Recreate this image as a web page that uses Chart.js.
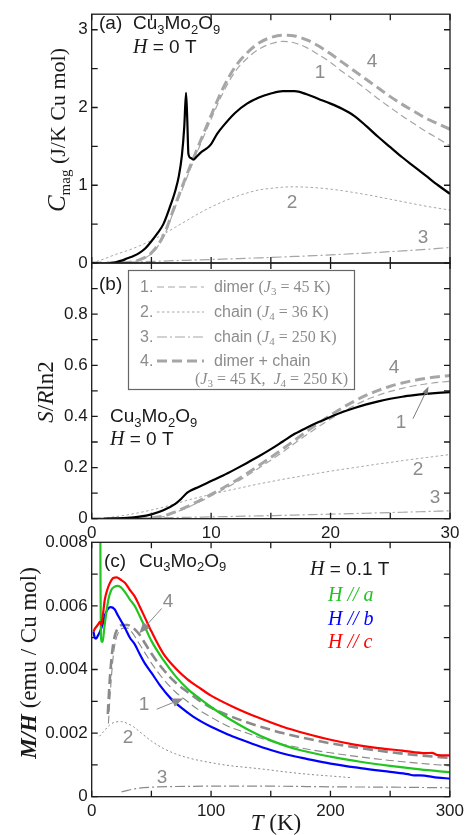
<!DOCTYPE html>
<html>
<head>
<meta charset="utf-8">
<script src="https://cdn.jsdelivr.net/npm/chart.js@4.4.1/dist/chart.umd.min.js"></script>
<style>
  html, body { margin: 0; padding: 0; background: #fff; }
  #wrap { position: relative; width: 468px; height: 835px; }
  #wrap canvas { position: absolute; left: 0; top: 0; }
</style>
</head>
<body>
<div id="wrap">
  <canvas id="cvA" width="468" height="835"></canvas>
  <canvas id="cvB" width="468" height="835"></canvas>
  <canvas id="cvC" width="468" height="835"></canvas>
</div>
<script>
// ---------- (a) magnetic specific heat ----------
const cMeasT = [1.5, 2, 2.5, 3, 3.5, 4, 4.5, 5, 5.5, 6, 6.5, 7, 7.3, 7.55, 7.75, 7.9, 8.0, 8.1, 8.3, 8.5,
  8.8, 9.2, 9.6, 10, 10.5, 11, 12, 13, 14, 15, 16, 17, 18, 19, 20, 21, 22, 23, 24, 25, 26, 27, 28, 29, 30];
const cMeas = [0, 0.01, 0.03, 0.06, 0.09, 0.13, 0.19, 0.28, 0.38, 0.5, 0.7, 0.93, 1.12, 1.38, 1.75, 2.19, 1.85, 1.4, 1.35, 1.33,
  1.37, 1.43, 1.47, 1.53, 1.66, 1.76, 1.93, 2.05, 2.13, 2.18, 2.21, 2.21, 2.17, 2.11, 2.05, 1.98, 1.89, 1.76, 1.62, 1.49,
  1.36, 1.24, 1.12, 1.0, 0.89];

// model curves on an integer temperature grid (K)
const modelT = [0, 1, 2, 3, 4, 5, 6, 7, 8, 9, 10, 11, 12, 13, 14, 15, 16, 17, 18, 19, 20,
  21, 22, 23, 24, 25, 26, 27, 28, 29, 30];
const cDimer = [0, 0, 0, 0.005, 0.04, 0.12, 0.33, 0.72, 1.11, 1.49, 1.85, 2.19, 2.46, 2.63, 2.75, 2.82,
  2.85, 2.83, 2.77, 2.68, 2.58, 2.46, 2.35, 2.23, 2.11, 2.0, 1.89, 1.79, 1.69, 1.6, 1.51];
const cChain36 = [0, 0.05, 0.11, 0.16, 0.22, 0.29, 0.37, 0.46, 0.55, 0.64, 0.72, 0.79, 0.85, 0.9, 0.94, 0.96,
  0.975, 0.98, 0.975, 0.965, 0.95, 0.93, 0.905, 0.88, 0.85, 0.82, 0.79, 0.76, 0.73, 0.705, 0.68];
const cChain250 = [0, 0.004, 0.008, 0.012, 0.016, 0.02, 0.025, 0.03, 0.035, 0.04, 0.045, 0.05, 0.055, 0.06, 0.066, 0.072,
  0.078, 0.084, 0.09, 0.097, 0.104, 0.112, 0.12, 0.128, 0.137, 0.146, 0.155, 0.165, 0.175, 0.187, 0.2];
const cSum = [0, 0, 0, 0.005, 0.04, 0.13, 0.35, 0.75, 1.15, 1.53, 1.9, 2.25, 2.52, 2.7, 2.83, 2.9,
  2.93, 2.92, 2.87, 2.79, 2.69, 2.58, 2.47, 2.36, 2.25, 2.14, 2.04, 1.95, 1.86, 1.79, 1.72];

// ---------- (b) entropy ----------
const sMeasT = [1, 2, 3, 4, 5, 6, 7, 7.5, 8, 9, 10, 11, 12, 13, 14, 15, 16, 17, 18, 19, 20,
  21, 22, 23, 24, 25, 26, 27, 28, 29, 30];
const sMeas = [0, 0.001, 0.003, 0.008, 0.017, 0.033, 0.058, 0.078, 0.102, 0.125, 0.147, 0.169, 0.193, 0.218, 0.244, 0.272,
  0.302, 0.332, 0.356, 0.378, 0.398, 0.417, 0.433, 0.447, 0.459, 0.469, 0.477, 0.483, 0.488, 0.492, 0.495];
const sDimer = [0, 0, 0, 0, 0, 0.002, 0.008, 0.024, 0.043, 0.065, 0.089, 0.114, 0.14, 0.168, 0.198, 0.229,
  0.261, 0.295, 0.328, 0.36, 0.39, 0.418, 0.443, 0.465, 0.483, 0.498, 0.51, 0.52, 0.527, 0.533, 0.537];
const sChain36 = [0, 0.003, 0.008, 0.015, 0.024, 0.034, 0.045, 0.058, 0.072, 0.084, 0.095, 0.106, 0.116, 0.126, 0.136, 0.145,
  0.154, 0.162, 0.17, 0.178, 0.186, 0.193, 0.2, 0.207, 0.214, 0.22, 0.227, 0.233, 0.239, 0.245, 0.251];
const sChain250 = [0, 0.0005, 0.001, 0.0017, 0.0024, 0.003, 0.0038, 0.0046, 0.0054, 0.0062, 0.007, 0.008, 0.009, 0.01, 0.011, 0.012,
  0.013, 0.0142, 0.0154, 0.0166, 0.018, 0.019, 0.0202, 0.0214, 0.0227, 0.024, 0.0253, 0.0267, 0.028, 0.0295, 0.031];
const sSum = [0, 0, 0, 0, 0, 0.003, 0.01, 0.027, 0.047, 0.07, 0.095, 0.12, 0.147, 0.177, 0.208, 0.24,
  0.273, 0.307, 0.341, 0.374, 0.405, 0.434, 0.46, 0.483, 0.502, 0.518, 0.531, 0.541, 0.549, 0.555, 0.56];

// ---------- (c) susceptibility M/H ----------
const mAT = [7.1, 7.4, 7.7, 8.3, 9.2, 10.5, 12.3, 14, 16.4, 19, 21.5, 24, 27.6, 32, 36, 40, 44.4, 50, 60, 70,
  80, 90, 100, 115, 130, 145, 160, 175, 200, 225, 250, 275, 300];
const mA = [0.0095, 0.0066, 0.0051, 0.00488, 0.00487, 0.0053, 0.0058, 0.0062, 0.0065, 0.0066, 0.00663, 0.0066, 0.00645,
  0.0062, 0.006, 0.0057, 0.00535, 0.0049, 0.0043, 0.0038, 0.0034, 0.0031, 0.00282, 0.00245, 0.00213, 0.00185,
  0.00163, 0.00146, 0.00126, 0.0011, 0.00097, 0.00086, 0.00077];
const mBT = [1.5, 2.5, 3.5, 5, 7, 9, 11, 13.5, 16, 19, 22, 25, 28, 32, 36, 40, 44.4, 50, 58, 66,
  75, 85, 100, 110, 120, 135, 150, 165, 180, 200, 225, 250, 265, 270, 275, 290, 300];
const mB = [0.0052, 0.005, 0.00497, 0.00505, 0.0052, 0.0054, 0.0057, 0.0059, 0.00596, 0.0059, 0.0057, 0.0055, 0.0053,
  0.005, 0.0048, 0.0045, 0.0042, 0.0039, 0.00346, 0.0031, 0.0028, 0.00252, 0.0022, 0.00203, 0.00187, 0.00166,
  0.00147, 0.00131, 0.00119, 0.00104, 0.0009, 0.00078, 0.00071, 0.00067, 0.00067, 0.0006, 0.00057];
const mCT = [1.5, 3, 5, 7, 8, 9, 11, 13, 15, 18, 21, 24, 28, 32, 36, 40, 45, 50, 60, 70,
  80, 90, 100, 120, 140, 160, 180, 200, 220, 240, 260, 280, 285, 290, 300];
const mC = [0.0052, 0.0053, 0.0054, 0.0055, 0.0054, 0.0056, 0.0062, 0.0065, 0.0067, 0.00688, 0.0069, 0.00683, 0.00672,
  0.0065, 0.0063, 0.006, 0.0056, 0.0052, 0.0045, 0.00405, 0.0037, 0.00343, 0.00318, 0.0028, 0.00248, 0.0022,
  0.00198, 0.00179, 0.00164, 0.00153, 0.00145, 0.00137, 0.00138, 0.00131, 0.0013];
const mDimerT = [14, 16, 18, 20, 23, 27, 30, 35, 40, 45, 50, 60, 70, 80, 90, 100, 115, 130, 145, 160,
  180, 200, 225, 250, 275, 300];
const mDimer = [0.0023, 0.0035, 0.0044, 0.0049, 0.0052, 0.0053, 0.0053, 0.0051, 0.0048, 0.0045, 0.0042, 0.0037, 0.0033,
  0.003, 0.00272, 0.0025, 0.0022, 0.002, 0.0018, 0.00165, 0.0015, 0.00138, 0.00125, 0.00114, 0.00105, 0.00097];
const mSumT = [13.5, 15, 17, 19, 22, 26, 30, 35, 40, 45, 50, 60, 70, 80, 90, 100, 115, 130, 145, 160,
  180, 200, 225, 250, 275, 300];
const mSum = [0.0026, 0.0036, 0.0045, 0.005, 0.0053, 0.0054, 0.0054, 0.0053, 0.0051, 0.0048, 0.0045, 0.004, 0.0036,
  0.0033, 0.00303, 0.0028, 0.00255, 0.00234, 0.00216, 0.002, 0.00183, 0.00168, 0.00153, 0.0014, 0.0013, 0.00122];
const mChain36T = [6.5, 10, 15, 20, 25, 30, 35, 40, 50, 60, 70, 80, 90, 100, 115, 130, 145, 160, 180, 200, 217];
const mChain36 = [0.0019, 0.00205, 0.00225, 0.00235, 0.00236, 0.0023, 0.0022, 0.00205, 0.00175, 0.00152, 0.00135,
  0.00123, 0.00114, 0.00107, 0.00098, 0.00092, 0.00086, 0.00079, 0.00071, 0.00065, 0.0006];
const mChain250T = [25, 30, 40, 50, 70, 100, 150, 200, 250, 300];
const mChain250 = [0.00015, 0.0002, 0.00027, 0.0003, 0.00032, 0.00033, 0.00033, 0.00031, 0.0003, 0.00028];

// ---------- ticks ----------
const lowXTicks = [0, 5, 10, 15, 20, 25, 30];
const lowXLabels = ['0', '10', '20', '30'];
const cYTicks = [0, 0.5, 1, 1.5, 2, 2.5, 3];
const cYLabels = ['0', '1', '2', '3'];
const sYTicks = [0, 0.1, 0.2, 0.3, 0.4, 0.5, 0.6, 0.7, 0.8, 0.9];
const sYLabels = ['0', '0.2', '0.4', '0.6', '0.8'];
const mXTicks = [0, 50, 100, 150, 200, 250, 300];
const mXLabels = ['0', '100', '200', '300'];
const mYTicks = [0, 0.001, 0.002, 0.003, 0.004, 0.005, 0.006, 0.007];
const mYLabels = ['0', '0.002', '0.004', '0.006', '0.008'];

// ---------- styles / helpers ----------
const SANS = '"Liberation Sans", Arial, sans-serif';
const SERIF = '"Liberation Serif", "Times New Roman", serif';
const INK = '#1a1a1a';
const NOTE = '#8c8c8c';
const sans = (s) => `${s}px ${SANS}`;
const serif = (s) => `${s}px ${SERIF}`;
const ital = (s) => `italic ${s}px ${SERIF}`;

const GRAY_AB = '#a6a6a6';
const GRAY_C = '#8a8a8a';
const DIMER = { w: 1.2, dash: [7, 4] };
const CHAIN36 = { w: 1, dash: [2.5, 2.5] };
const CHAIN250 = { w: 1.2, dash: [10, 3, 2, 3] };
const SUM = { w: 3, dash: [10, 5] };

const pts = (xs, ys) => xs.map((x, i) => ({ x, y: ys[i] }));

function line(data, color, width, dash) {
  return {
    data, borderColor: color, borderWidth: width, borderDash: dash || [],
    pointRadius: 0, fill: false, cubicInterpolationMode: "monotone", borderCapStyle: "butt",
  };
}
const model = (data, st, color) => line(data, color, st.w, st.dash);

function rich(ctx, x, y, runs, align = "left", rot = 0) {
  ctx.save();
  ctx.translate(x, y);
  if (rot) ctx.rotate(rot);
  ctx.textAlign = "left";
  ctx.textBaseline = "alphabetic";
  let w = 0;
  runs.forEach((r) => { ctx.font = r[1]; w += ctx.measureText(r[0]).width; });
  let cx = align === "center" ? -w / 2 : align === "right" ? -w : 0;
  runs.forEach((r) => {
    ctx.font = r[1];
    ctx.fillStyle = r[3] || INK;
    ctx.fillText(r[0], cx, r[2] || 0);
    cx += ctx.measureText(r[0]).width;
  });
  ctx.restore();
}

function formula(s, color) {
  const b = sans(s), t = sans(Math.round(s * 0.68)), d = s * 0.24;
  return [["Cu", b, 0, color], ["3", t, d, color], ["Mo", b, 0, color], ["2", t, d, color], ["O", b, 0, color], ["9", t, d, color]];
}

function arrow(ctx, x0, y0, x1, y1, len, wid, color, lw) {
  const a = Math.atan2(y1 - y0, x1 - x0);
  const bx = x1 - len * Math.cos(a), by = y1 - len * Math.sin(a);
  ctx.save();
  ctx.strokeStyle = color; ctx.fillStyle = color; ctx.lineWidth = lw;
  ctx.beginPath(); ctx.moveTo(x0, y0); ctx.lineTo(bx, by); ctx.stroke();
  ctx.beginPath();
  ctx.moveTo(x1, y1);
  ctx.lineTo(bx + (wid / 2) * Math.sin(a), by - (wid / 2) * Math.cos(a));
  ctx.lineTo(bx - (wid / 2) * Math.sin(a), by + (wid / 2) * Math.cos(a));
  ctx.closePath(); ctx.fill();
  ctx.restore();
}

// frame + inward ticks on all four sides
function framePlugin(xTicks, yTicks) {
  return {
    id: "frame",
    afterDatasetsDraw(chart) {
      const { ctx, chartArea: a } = chart;
      const x = chart.scales.x, y = chart.scales.y;
      const L = 6;
      ctx.save();
      ctx.strokeStyle = INK;
      ctx.lineWidth = 1.3;
      ctx.beginPath();
      xTicks.forEach((v) => {
        const p = x.getPixelForValue(v);
        ctx.moveTo(p, a.bottom); ctx.lineTo(p, a.bottom - L);
        ctx.moveTo(p, a.top); ctx.lineTo(p, a.top + L);
      });
      yTicks.forEach((v) => {
        const p = y.getPixelForValue(v);
        ctx.moveTo(a.left, p); ctx.lineTo(a.left + L, p);
        ctx.moveTo(a.right, p); ctx.lineTo(a.right - L, p);
      });
      ctx.stroke();
      ctx.strokeRect(a.left, a.top, a.right - a.left, a.bottom - a.top);
      ctx.restore();
    },
  };
}

function makeChart(id, datasets, o) {
  const tickFont = { family: SANS, size: 17 };
  return new Chart(document.getElementById(id), {
    type: "line",
    data: { datasets },
    options: {
      responsive: false,
      animation: false,
      events: [],
      layout: { autoPadding: false, padding: o.padding },
      plugins: { legend: { display: false }, tooltip: { enabled: false } },
      scales: {
        x: {
          type: "linear", min: o.xMin, max: o.xMax,
          display: !!o.xLabels,
          grid: { display: false, drawTicks: false },
          border: { display: false },
          afterBuildTicks: (s) => { if (o.xLabels) s.ticks = o.xLabels.map((l) => ({ value: parseFloat(l) })); },
          afterFit: (s) => { s.height = o.xLabels ? 24 : 0; },
          ticks: {
            autoSkip: false, maxRotation: 0, padding: 4, color: INK, font: tickFont,
            callback: (v, i) => (o.xLabels ? o.xLabels[i] : ""),
          },
        },
        y: {
          type: "linear", min: o.yMin, max: o.yMax,
          grid: { display: false, drawTicks: false },
          border: { display: false },
          afterBuildTicks: (s) => { s.ticks = o.yLabels.map((l) => ({ value: parseFloat(l) })); },
          afterFit: (s) => { s.width = 91.7; },
          ticks: {
            autoSkip: false, padding: 4, color: INK, font: tickFont,
            callback: (v, i) => o.yLabels[i],
          },
        },
      },
    },
    plugins: [framePlugin(o.xTicks, o.yTicks), { id: "notes", afterDraw: o.notes }],
  });
}

// ---------- panel (a) ----------
makeChart("cvA", [
  line(pts(cMeasT, cMeas), "#000", 2.2),
  model(pts(modelT, cSum), SUM, GRAY_AB),
  model(pts(modelT, cDimer), DIMER, GRAY_AB),
  model(pts(modelT, cChain36), CHAIN36, GRAY_AB),
  model(pts(modelT, cChain250), CHAIN250, GRAY_AB),
], {
  padding: { left: 0, right: 18, top: 6, bottom: 572 },
  xMin: 0, xMax: 30, yMin: 0, yMax: 3.2,
  xLabels: null, yLabels: cYLabels, xTicks: lowXTicks, yTicks: cYTicks,
  notes(chart) {
    const ctx = chart.ctx;
    rich(ctx, 99, 29.3, [["(a)", sans(19)]]);
    rich(ctx, 133, 29.3, formula(19));
    rich(ctx, 133, 53, [["H", ital(20)], [" = 0 T", sans(19)]]);
    rich(ctx, 320, 78, [["1", sans(19), 0, NOTE]], "center");
    rich(ctx, 372, 67, [["4", sans(19), 0, NOTE]], "center");
    rich(ctx, 292, 208.3, [["2", sans(19), 0, NOTE]], "center");
    rich(ctx, 423, 243.3, [["3", sans(19), 0, NOTE]], "center");
    rich(ctx, 65, 130, [["C", ital(25)], ["mag", serif(15), 5], [" (J/K Cu mol)", serif(22)]], "center", -Math.PI / 2);
  },
});

// ---------- panel (b) ----------
const LG = 16, LGS = 11;
const legendRows = [
  { n: "1.", st: DIMER, y: 292, t: [["dimer ", sans(LG)], ["(", serif(LG)], ["J", ital(LG)], ["3", serif(LGS), 3], [" = 45 K)", serif(LG)]] },
  { n: "2.", st: CHAIN36, y: 317, t: [["chain ", sans(LG)], ["(", serif(LG)], ["J", ital(LG)], ["4", serif(LGS), 3], [" = 36 K)", serif(LG)]] },
  { n: "3.", st: CHAIN250, y: 342, t: [["chain ", sans(LG)], ["(", serif(LG)], ["J", ital(LG)], ["4", serif(LGS), 3], [" = 250 K)", serif(LG)]] },
  { n: "4.", st: SUM, y: 366, t: [["dimer + chain", sans(LG)]] },
];

makeChart("cvB", [
  line(pts(sMeasT, sMeas), "#000", 2.2),
  model(pts(modelT, sSum), SUM, GRAY_AB),
  model(pts(modelT, sDimer), DIMER, GRAY_AB),
  model(pts(modelT, sChain36), CHAIN36, GRAY_AB),
  model(pts(modelT, sChain250), CHAIN250, GRAY_AB),
], {
  padding: { left: 0, right: 18, top: 263, bottom: 835 - 518.7 - 24 },
  xMin: 0, xMax: 30, yMin: 0, yMax: 1.0,
  xLabels: lowXLabels, yLabels: sYLabels, xTicks: lowXTicks, yTicks: sYTicks,
  notes(chart) {
    const ctx = chart.ctx;
    const x = chart.scales.x, y = chart.scales.y;
    rich(ctx, 99, 290, [["(b)", sans(19)]]);
    // legend box
    ctx.save();
    ctx.strokeStyle = "#666";
    ctx.lineWidth = 1.2;
    ctx.strokeRect(128.5, 270.5, 226, 119);
    legendRows.forEach((r) => {
      rich(ctx, 140, r.y, [[r.n, sans(LG), 0, NOTE]]);
      ctx.strokeStyle = GRAY_AB;
      ctx.lineWidth = r.st.w;
      ctx.setLineDash(r.st.dash);
      ctx.beginPath();
      ctx.moveTo(157, r.y - 5);
      ctx.lineTo(204, r.y - 5);
      ctx.stroke();
      ctx.setLineDash([]);
      rich(ctx, 214, r.y, r.t.map((p) => [p[0], p[1], p[2] || 0, NOTE]));
    });
    rich(ctx, 195, 384, [["(", serif(LG)], ["J", ital(LG)], ["3", serif(LGS), 3], [" = 45 K,  ", serif(LG)],
      ["J", ital(LG)], ["4", serif(LGS), 3], [" = 250 K)", serif(LG)]].map((p) => [p[0], p[1], p[2] || 0, NOTE]));
    ctx.restore();

    rich(ctx, 110, 422, formula(19));
    rich(ctx, 110, 445, [["H", ital(20)], [" = 0 T", sans(19)]]);
    rich(ctx, 394, 373.3, [["4", sans(19), 0, NOTE]], "center");
    rich(ctx, 401, 428.3, [["1", sans(19), 0, NOTE]], "center");
    rich(ctx, 418, 475, [["2", sans(19), 0, NOTE]], "center");
    rich(ctx, 435, 503.3, [["3", sans(19), 0, NOTE]], "center");
    arrow(ctx, x.getPixelForValue(26.9), y.getPixelForValue(0.391),
      x.getPixelForValue(28.2), y.getPixelForValue(0.517), 8, 6, "#7a7a7a", 1);
    rich(ctx, 53, 392, [["S", ital(23)], ["/", serif(23)], ["R", ital(23)], ["ln2", serif(23)]], "center", -Math.PI / 2);
  },
});

// ---------- panel (c) ----------
makeChart("cvC", [
  line(pts(mCT, mC), "#ff0000", 2.2),
  line(pts(mAT, mA), "#22c422", 2.2),
  line(pts(mBT, mB), "#0000ff", 2.2),
  model(pts(mSumT, mSum), { w: 2.6, dash: [10, 5] }, GRAY_C),
  model(pts(mDimerT, mDimer), { w: 1.1, dash: [8, 4] }, GRAY_C),
  model(pts(mChain36T, mChain36), { w: 1, dash: [2, 2.5] }, GRAY_C),
  model(pts(mChain250T, mChain250), CHAIN250, GRAY_C),
], {
  padding: { left: 0, right: 18, top: 542.3, bottom: 835 - 796.7 - 24 },
  xMin: 0, xMax: 300, yMin: 0, yMax: 0.008,
  xLabels: mXLabels, yLabels: mYLabels, xTicks: mXTicks, yTicks: mYTicks,
  notes(chart) {
    const ctx = chart.ctx;
    const x = chart.scales.x, y = chart.scales.y;
    rich(ctx, 104, 566.7, [["(c)", sans(19)]]);
    rich(ctx, 139, 566.7, formula(19));
    rich(ctx, 310, 575, [["H", ital(20)], [" = 0.1 T", sans(19)]]);
    rich(ctx, 328, 601, [["H // a", ital(20), 0, "#22c422"]]);
    rich(ctx, 328, 625, [["H // b", ital(20), 0, "#0000ff"]]);
    rich(ctx, 328, 648, [["H // c", ital(20), 0, "#ff0000"]]);
    rich(ctx, 168, 606.7, [["4", sans(19), 0, NOTE]], "center");
    rich(ctx, 144, 710, [["1", sans(19), 0, NOTE]], "center");
    rich(ctx, 128, 743, [["2", sans(19), 0, NOTE]], "center");
    rich(ctx, 162, 783.3, [["3", sans(19), 0, NOTE]], "center");
    arrow(ctx, x.getPixelForValue(58.6), y.getPixelForValue(0.00592),
      x.getPixelForValue(39.9), y.getPixelForValue(0.00514), 11, 9, "#8a8a8a", 1);
    arrow(ctx, x.getPixelForValue(54.4), y.getPixelForValue(0.00275),
      x.getPixelForValue(76.7), y.getPixelForValue(0.00309), 11, 9, "#8a8a8a", 1);
    rich(ctx, 36, 663, [["M/H", `italic bold 23px ${SERIF}`], [" (emu / Cu mol)", serif(23)]], "center", -Math.PI / 2);
    rich(ctx, 276, 830, [["T", ital(23)], [" (K)", serif(23)]], "center");
  },
});
</script>
</body>
</html>
